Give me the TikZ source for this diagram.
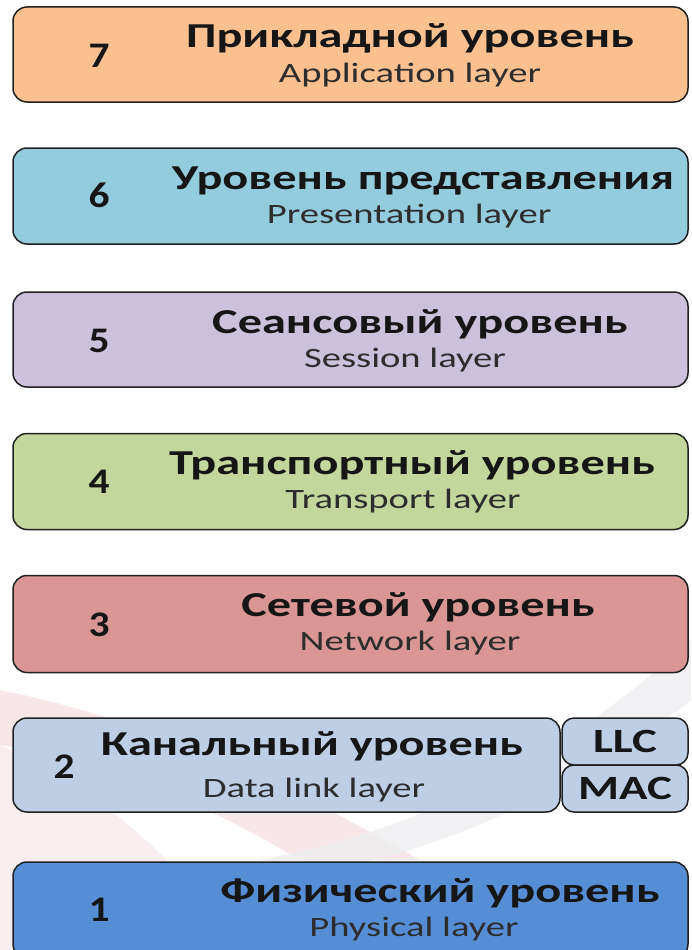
\documentclass[tikz,border=0pt]{standalone}
\usepackage{fontspec}
\newfontfamily\lfont[FakeStretch=1.38]{Carlito}
\newfontfamily\dfont[FakeStretch=1.15]{Carlito}
\definecolor{c7}{RGB}{250,192,144}
\definecolor{c6}{RGB}{147,205,221}
\definecolor{c5}{RGB}{204,193,218}
\definecolor{c4}{RGB}{195,214,155}
\definecolor{c3}{RGB}{217,150,148}
\definecolor{c2}{RGB}{190,206,228}
\definecolor{c1}{RGB}{85,142,213}
\definecolor{edge}{RGB}{32,32,32}
\definecolor{ttl}{RGB}{22,22,22}
\definecolor{sub}{RGB}{45,45,45}
\definecolor{swpink}{RGB}{244,222,224}
\definecolor{swgray}{RGB}{238,238,240}
\tikzset{
  layerbox/.style={draw=edge, line width=1.5pt, rounded corners=14pt, inner sep=0pt},
  title/.style={anchor=base, inner sep=0pt, text=ttl, font=\lfont\bfseries\fontsize{35}{40}\selectfont},
  subtitle/.style={anchor=base, inner sep=0pt, text=sub, font=\lfont\fontsize{28}{32}\selectfont},
  digit/.style={anchor=base, inner sep=0pt, text=ttl, font=\dfont\bfseries\fontsize{36}{40}\selectfont},
  sublayer/.style={draw=edge, line width=1.5pt, rounded corners=12pt, inner sep=0pt, fill=c2,
     text=ttl, font=\lfont\bfseries\fontsize{34}{36}\selectfont},
}
\begin{document}
\begin{tikzpicture}[x=1pt,y=-1pt]
\useasboundingbox (0,0) rectangle (691,950);
\fill[white] (0,0) rectangle (691,950);
\clip (0,0) rectangle (691,950);
% faint background swooshes
\fill[swpink, opacity=0.7] (0,690) .. controls (150,720) and (300,790) .. (420,860)
  -- (300,860) .. controls (200,800) and (100,760) .. (0,745) -- cycle;
\fill[swpink, opacity=0.5] (0,745) .. controls (100,790) and (180,860) .. (240,950) -- (0,950) -- cycle;
\fill[swgray, opacity=0.8] (260,860) .. controls (420,830) and (560,760) .. (691,640)
  -- (691,700) .. controls (580,790) and (440,850) .. (330,870) -- cycle;
% layer 7
\node[layerbox, fill=c7, minimum width=675pt, minimum height=95pt] (L7) at (350.5,54.5) {};
\node[digit] (n7) at (99,67) {7};
\node[title] (t7) at (410,48) {Прикладной уровень};
\node[subtitle] (s7) at (410,82) {Application layer};
% layer 6
\node[layerbox, fill=c6, minimum width=675pt, minimum height=96pt] (L6) at (350.5,196) {};
\node[digit] (n6) at (99,207) {6};
\node[title] (t6) at (423,189) {Уровень представления};
\node[subtitle] (s6) at (409,223) {Presentation layer};
% layer 5
\node[layerbox, fill=c5, minimum width=675pt, minimum height=95pt] (L5) at (350.5,339.5) {};
\node[digit] (n5) at (99,352) {5};
\node[title] (t5) at (420,333) {Сеансовый уровень};
\node[subtitle] (s5) at (405,367) {Session layer};
% layer 4
\node[layerbox, fill=c4, minimum width=675pt, minimum height=96pt] (L4) at (350.5,481.5) {};
\node[digit] (n4) at (99,493) {4};
\node[title] (t4) at (412,474) {Транспортный уровень};
\node[subtitle] (s4) at (403,508) {Transport layer};
% layer 3
\node[layerbox, fill=c3, minimum width=675pt, minimum height=97pt] (L3) at (350.5,624) {};
\node[digit] (n3) at (99,636) {3};
\node[title] (t3) at (418,616) {Сетевой уровень};
\node[subtitle] (s3) at (410,650) {Network layer};
% layer 2
\node[layerbox, fill=c2, minimum width=547pt, minimum height=94pt] (L2) at (286.5,765) {};
\node[digit] (n2) at (64,778) {2};
\node[title] (t2) at (312,755) {Канальный уровень};
\node[subtitle] (s2) at (314,797) {Data link layer};
\node[sublayer, minimum width=126pt, minimum height=47pt] (llc) at (625,741.5) {LLC};
\node[sublayer, minimum width=126pt, minimum height=47pt] (mac) at (625,788.5) {MAC};
% layer 1
\node[layerbox, fill=c1, minimum width=675pt, minimum height=96pt] (L1) at (350.5,910) {};
\node[digit] (n1) at (99,921) {1};
\node[title] (t1) at (440,902) {Физический уровень};
\node[subtitle] (s1) at (414,936) {Physical layer};
\end{tikzpicture}
\end{document}
